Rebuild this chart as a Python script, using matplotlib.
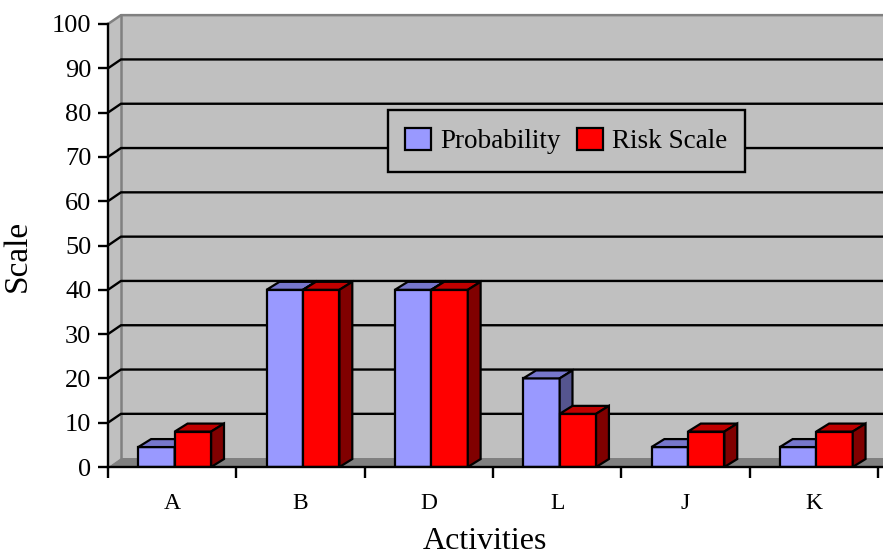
import matplotlib.pyplot as plt
from matplotlib.patches import Polygon, Patch

activities = ["A", "B", "D", "L", "J", "K"]
probability = [4.5, 40, 40, 20, 4.5, 4.5]
risk_scale = [8, 40, 40, 12, 8, 8]

plt.rcParams["font.family"] = ["Liberation Serif", "DejaVu Serif"]

fig = plt.figure(figsize=(8.83, 5.56), dpi=100)
ax = fig.add_axes([108 / 883, 89 / 556, 775 / 883, 443 / 556])
ax.set_facecolor("none")

XMAX = 6.04
ax.set_xlim(0, XMAX)
ax.set_ylim(0, 100)

# depth of the walls and of the columns, in data units
DX, DY = 0.101, 2.0
BDX, BDY = 0.1, 1.8
XR = XMAX + 0.2

wall = "#C0C0C0"
floor = "#808080"

# back wall, side wall and floor
ax.add_patch(Polygon([(DX, DY), (XR, DY), (XR, 100 + DY), (DX, 100 + DY)],
                     closed=True, fc=wall, ec="none", zorder=0, clip_on=False))
ax.add_patch(Polygon([(0, 0), (DX, DY), (DX, 100 + DY), (0, 100)],
                     closed=True, fc=wall, ec="none", zorder=0, clip_on=False))
ax.add_patch(Polygon([(0, 0), (XR, 0), (XR, DY), (DX, DY)],
                     closed=True, fc=floor, ec="none", zorder=0.5, clip_on=False))
ax.plot([0, DX, XR], [100, 100 + DY, 100 + DY], color=floor, lw=1.8,
        zorder=0.6, clip_on=False)
ax.plot([DX, DX], [DY, 100 + DY], color=floor, lw=1.8, zorder=0.6, clip_on=False)

# gridlines on the walls
for v in range(10, 100, 10):
    ax.plot([0, DX, XR], [v, v + DY, v + DY], color="black", lw=1.7,
            zorder=1, clip_on=False)

blue_front, blue_top, blue_side = "#9999FF", "#7777CC", "#55558F"
red_front, red_top, red_side = "#FF0000", "#C00000", "#800000"
W = 0.284


def column(x0, h, front, top, side, z):
    x1 = x0 + W
    ax.bar(x0, h, width=W, align="edge", color=front, edgecolor="black",
           lw=1.6, zorder=z)
    ax.add_patch(Polygon([(x0, h), (x0 + BDX, h + BDY), (x1 + BDX, h + BDY), (x1, h)],
                         closed=True, fc=top, ec="black", lw=1.6, zorder=z))
    ax.add_patch(Polygon([(x1, 0), (x1 + BDX, BDY), (x1 + BDX, h + BDY), (x1, h)],
                         closed=True, fc=side, ec="black", lw=1.6, zorder=z))


for i in range(len(activities)):
    column(i + 0.236, probability[i], blue_front, blue_top, blue_side, 3 + i * 0.1)
    column(i + 0.236 + W, risk_scale[i], red_front, red_top, red_side, 3.05 + i * 0.1)

# axes
for s in ["top", "right"]:
    ax.spines[s].set_visible(False)
for s in ["left", "bottom"]:
    ax.spines[s].set_linewidth(1.7)
    ax.spines[s].set_zorder(6)

ax.set_xticks(range(7))
ax.set_xticklabels([])
ax.set_xticks([i + 0.5 for i in range(len(activities))], minor=True)
ax.set_xticklabels(activities, minor=True, fontsize=17)
ax.tick_params(axis="x", which="major", length=8, width=1.7, direction="out")
ax.tick_params(axis="x", which="minor", length=0, pad=19)

ax.set_yticks(range(0, 101, 10))
ax.tick_params(axis="y", length=7, width=1.7, direction="out", pad=5, labelsize=19)

ax.set_xlabel("Activities", fontsize=23, va="baseline")
ax.xaxis.set_label_coords(0.486, -0.186)
ax.set_ylabel("Scale", fontsize=24)
ax.yaxis.set_label_coords(-0.097, 0.476)

handles = [Patch(fc=blue_front, ec="black", lw=1.6), Patch(fc=red_front, ec="black", lw=1.6)]
leg = ax.legend(handles, ["Probability", "Risk Scale"], ncol=2, loc="center",
                bbox_to_anchor=(0.6416, 0.7464), bbox_transform=fig.transFigure,
                fontsize=19.5, fancybox=False, framealpha=1, facecolor=wall,
                edgecolor="black", handlelength=0.95, handleheight=0.85,
                handletextpad=0.35, columnspacing=0.6, borderpad=0.65,
                borderaxespad=0)
leg.get_frame().set_linewidth(1.7)
leg.set_zorder(10)

fig.savefig("out.png", dpi=100)
